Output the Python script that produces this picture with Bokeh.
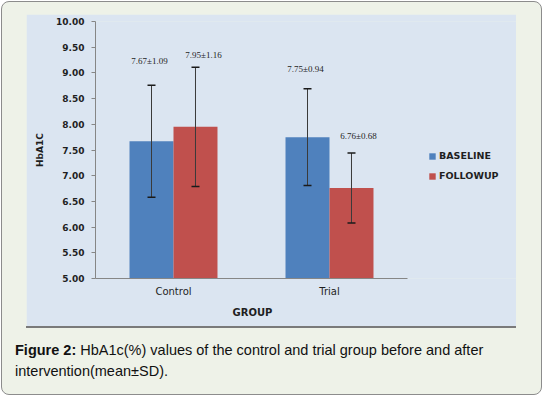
from bokeh.plotting import figure
from bokeh.layouts import column
from bokeh.models import (ColumnDataSource, Range1d, Whisker, TeeHead, Title,
                          Legend, LegendItem, FixedTicker, NumeralTickFormatter, Div)
from bokeh.transform import dodge
from bokeh.core.properties import value
from bokeh.embed import file_html
from bokeh.resources import INLINE

# ---------------- data ----------------
groups = ["Control", "Trial"]
series_names = ["BASELINE", "FOLLOWUP"]
baseline_mean = [7.67, 7.75]
baseline_sd = [1.09, 0.94]
followup_mean = [7.95, 6.76]
followup_sd = [1.16, 0.68]
baseline_labels = ["7.67±1.09", "7.75±0.94"]
followup_labels = ["7.95±1.16", "6.76±0.68"]
y_ticks = [5.0, 5.5, 6.0, 6.5, 7.0, 7.5, 8.0, 8.5, 9.0, 9.5, 10.0]
x_title = "GROUP"
y_title = "HbA1C"
caption_bold = "Figure 2:"
caption_line1 = "HbA1c(%) values of the control and trial group before and after"
caption_line2 = "intervention(mean±SD)."

# ---------------- styles / layout ----------------
BLUE = "#4f81bd"
RED = "#c0504d"
CHART_BG = "#dbe5f1"
OUTER_BG = "#eef2e8"
AXIS_C = "#868686"
TXT = "#1f1f1f"
BAR_W = 0.282
OFF = 0.141
base_lab_dx = [-2, -2]
base_lab_dy = [-24, -20]
foll_lab_dx = [8, 7]
foll_lab_dy = [-12, -17]

# category slot centres (slot i spans i .. i+1 on the x scale)
xpos = [i + 0.5 for i in range(len(groups))]
n_slots = len(groups)

src = ColumnDataSource(dict(
    x=xpos,
    b_mean=baseline_mean,
    b_up=[m + s for m, s in zip(baseline_mean, baseline_sd)],
    b_lo=[m - s for m, s in zip(baseline_mean, baseline_sd)],
    b_lab=baseline_labels,
    b_dx=base_lab_dx, b_dy=base_lab_dy,
    f_mean=followup_mean,
    f_up=[m + s for m, s in zip(followup_mean, followup_sd)],
    f_lo=[m - s for m, s in zip(followup_mean, followup_sd)],
    f_lab=followup_labels,
    f_dx=foll_lab_dx, f_dy=foll_lab_dy,
))

FRAME_W = 421      # px; the category axis uses 312 px of it
x_end = n_slots * FRAME_W / 312.0

p = figure(width=490, height=312, x_range=Range1d(0, x_end), y_range=Range1d(5, 10),
           output_backend="svg", toolbar_location=None,
           min_border_left=69, min_border_right=0, min_border_top=7, min_border_bottom=48)
p.border_fill_color = CHART_BG
p.background_fill_color = CHART_BG
p.outline_line_color = None
p.xgrid.visible = False
p.ygrid.visible = False

xb = dodge("x", -OFF)
xf = dodge("x", OFF)
rb = p.vbar(x=xb, top="b_mean", width=BAR_W, source=src, fill_color=BLUE, line_color=None)
rf = p.vbar(x=xf, top="f_mean", width=BAR_W, source=src, fill_color=RED, line_color=None)

for base, up, lo in [(xb, "b_up", "b_lo"), (xf, "f_up", "f_lo")]:
    w = Whisker(source=src, base=base, upper=up, lower=lo, line_color="#3a3a3a", line_width=1,
                level="annotation",
                upper_head=TeeHead(size=8, line_color="#1a1a1a", line_width=1.5),
                lower_head=TeeHead(size=8, line_color="#1a1a1a", line_width=1.5))
    p.add_layout(w)

for xx, yy, lab, dx, dy in [(xb, "b_up", "b_lab", "b_dx", "b_dy"), (xf, "f_up", "f_lab", "f_dx", "f_dy")]:
    p.text(x=xx, y=yy, text=lab, x_offset=dx, y_offset=dy, source=src,
           text_font=value("Liberation Serif"), text_font_size="9px", text_color=TXT,
           text_align="center", text_baseline="middle")

# axes
ya = p.yaxis[0]
ya.ticker = FixedTicker(ticks=y_ticks)
ya.formatter = NumeralTickFormatter(format="0.00")
ya.axis_line_color = AXIS_C
ya.major_tick_line_color = AXIS_C
ya.major_tick_out = 4
ya.major_tick_in = 0
ya.minor_tick_line_color = None
ya.major_label_standoff = 7
ya.major_label_text_font = "DejaVu Sans"
ya.major_label_text_font_size = "9px"
ya.major_label_text_font_style = "bold"
ya.major_label_text_color = TXT
ya.axis_label = y_title
ya.axis_label_text_font = "DejaVu Sans"
ya.axis_label_text_font_size = "9px"
ya.axis_label_text_font_style = "bold"
ya.axis_label_text_color = TXT
ya.axis_label_standoff = 8

xa = p.xaxis[0]
xa.bounds = (0, n_slots)
xa.ticker = FixedTicker(ticks=xpos)
xa.major_label_overrides = {xv: g for xv, g in zip(xpos, groups)}
xa.axis_line_color = AXIS_C
xa.major_tick_line_color = None
xa.major_tick_out = 0
xa.major_tick_in = 0
xa.minor_tick_line_color = None
xa.major_label_standoff = 7
xa.major_label_text_font = "DejaVu Sans"
xa.major_label_text_font_size = "10px"
xa.major_label_text_color = TXT

# x-axis title centred under the category axis (not under the wider frame)
p.add_layout(Title(text=x_title, align="left", offset=137, vertical_align="top", standoff=14,
                   text_font="DejaVu Sans", text_font_size="10px", text_font_style="bold",
                   text_color=TXT), "below")

legend = Legend(items=[LegendItem(label=series_names[0], renderers=[rb]),
                       LegendItem(label=series_names[1], renderers=[rf])],
                location=(333, 97), orientation="vertical",
                glyph_width=8, glyph_height=8, label_height=10, label_standoff=3,
                spacing=9, padding=0, margin=0, border_line_color=None,
                background_fill_alpha=0,
                label_text_font="DejaVu Sans", label_text_font_size="9.5px",
                label_text_font_style="bold", label_text_color=TXT)
p.add_layout(legend)

line = Div(text="", width=490, height=2, margin=0, styles={"background-color": "#7a7a7a"})

cap_html = (
    '<div style="margin-left:-11px; font-family:\'Liberation Sans\', Arial, sans-serif; '
    'font-size:14.5px; line-height:21px; color:#111; white-space:nowrap;">'
    f'<b>{caption_bold}</b> {caption_line1}<br>{caption_line2}</div>'
)
cap = Div(text=cap_html, width=490, height=42, margin=(12, 0, 0, 0))

lay = column(p, line, cap, spacing=0,
             styles={"background-color": OUTER_BG, "border": "1px solid #8c8c8c",
                     "border-radius": "8px", "margin": "1px 0 0 1px",
                     "padding": "12px 25px 12px 24px"})

open("out.html", "w").write(file_html(lay, INLINE))
